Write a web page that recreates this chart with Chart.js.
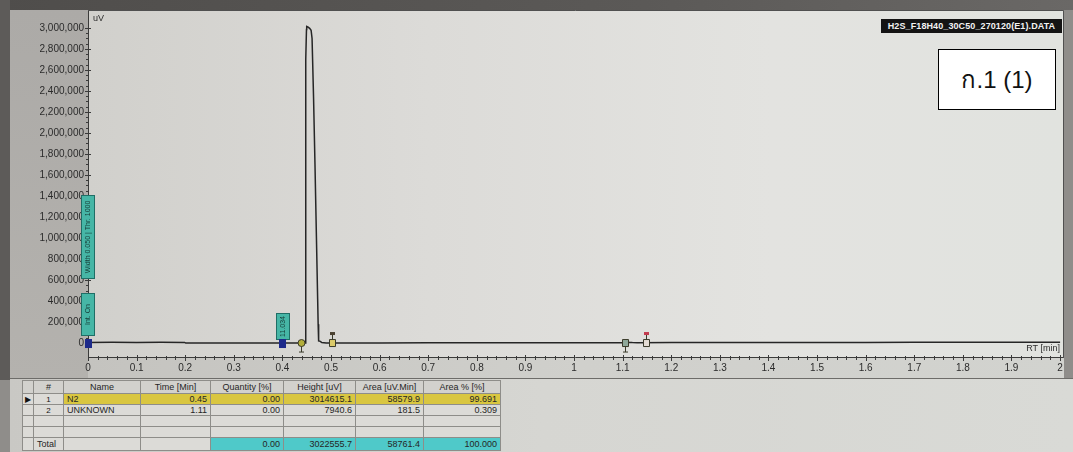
<!DOCTYPE html>
<html>
<head>
<meta charset="utf-8">
<script src="https://cdn.jsdelivr.net/npm/chart.js@4.4.1/dist/chart.umd.min.js"></script>
<style>
  html, body { margin: 0; padding: 0; width: 1073px; height: 452px; overflow: hidden; background: #8f8d8a; }
  #wrap { position: relative; width: 1073px; height: 452px; }
  #chart { position: absolute; left: 0; top: 0; }
  #file {
    position: absolute; left: 881px; top: 19px; width: 181px; height: 14px;
    background: #141414; color: #f2f2f2; box-sizing: border-box;
    font: bold 9px "Liberation Sans", Arial, sans-serif; line-height: 14px;
    text-align: center; white-space: nowrap; overflow: hidden; letter-spacing: 0.1px;
  }
  #tag {
    position: absolute; left: 938px; top: 49px; width: 118px; height: 61px;
    background: #ffffff; border: 1px solid #000; box-sizing: border-box;
    font: 24px "Liberation Sans", "Noto Sans", Arial, sans-serif; color: #111;
    display: flex; align-items: center; justify-content: center;
  }
  #tableArea {
    position: absolute; left: 10px; top: 378px; width: 1063px; height: 74px;
    background: linear-gradient(90deg, #c9c8c4 0%, #d6d6d2 50%, #d9dad6 100%);
    border-top: 1px solid #6d6c69; box-sizing: border-box;
  }
  #peaks {
    position: absolute; left: 12px; top: 1px; border-collapse: collapse; table-layout: fixed;
    font: 9px "Liberation Sans", Arial, sans-serif; color: #262626;
  }
  #peaks th, #peaks td {
    border: 1px solid #8e8d89; padding: 0 3px; white-space: nowrap; overflow: hidden;
    box-sizing: border-box; font-weight: normal;
  }
  #peaks th { height: 13px; background: #d2d1cd; text-align: center; }
  #peaks td { height: 11px; line-height: 9px; background: #dcdbd7; }
  #peaks td.num { text-align: right; }
  #peaks tr.sel td { background: #d9c640; }
  #peaks tr.sel td.mark { background: #dcdbd7; }
  #peaks tr.total td { height: 13px; }
  #peaks tr.total td.sum { background: #4fc9c9; }
  #peaks td.mark { text-align: center; padding: 0; font-size: 8px; color: #111; }
</style>
</head>
<body>
<div id="wrap">
  <canvas id="chart" width="1073" height="380"></canvas>
  <div id="file">H2S_F18H40_30C50_270120(E1).DATA</div>
  <div id="tag">ก.1 (1)</div>
  <div id="tableArea"><table id="peaks"></table></div>
</div>
<script>
// Chromatogram trace: retention time [min] and detector signal [uV]
const rtMin = [0, 0.05, 0.1, 0.15, 0.199, 0.201, 0.3, 0.4, 0.44, 0.4465, 0.4475, 0.4485, 0.4495, 0.45,
  0.453, 0.456, 0.459, 0.461, 0.464, 0.467, 0.470, 0.4725, 0.4735, 0.4742, 0.4748, 0.478, 0.481, 0.49,
  0.6, 0.7, 0.8, 0.9, 1.0, 1.09, 1.1, 1.105, 1.11, 1.115, 1.12, 1.13, 1.2, 1.3, 1.4, 1.5, 1.6, 1.7,
  1.8, 1.9, 2.0];
const signalUv = [6000, 6500, 6000, 6500, 6000, 0, 500, 0, 0, 0, 1200000, 2700000, 2985000, 3014615.1,
  3008000, 2996000, 2978000, 2900000, 2350000, 1700000, 1000000, 420000, 180000, 45000, 20000, 16000, 4000, 0,
  1000, 1500, 2000, 2500, 3000, 3500, 3500, 5000, 7940.6, 6000, 4500, 3800, 4000, 4500, 5000, 5500, 6000, 6500,
  7000, 7500, 8000];

// Axis tick values
const xTickValues = [0, 0.1, 0.2, 0.3, 0.4, 0.5, 0.6, 0.7, 0.8, 0.9, 1, 1.1, 1.2, 1.3, 1.4, 1.5, 1.6, 1.7, 1.8, 1.9, 2];
const yTickValues = [0, 200000, 400000, 600000, 800000, 1000000, 1200000, 1400000, 1600000, 1800000,
  2000000, 2200000, 2400000, 2600000, 2800000, 3000000];

// Peak table
const peakNumbers = [1, 2];
const peakNames = ['N2', 'UNKNOWN'];
const peakTimes = [0.45, 1.11];
const peakQuantity = [0.00, 0.00];
const peakHeights = [3014615.1, 7940.6];
const peakAreas = [58579.9, 181.5];
const peakAreaPct = [99.691, 0.309];

// Integration limits of each peak [min]
const peakStartRt = [0.439, 1.105];
const peakEndRt = [0.502, 1.148];

// Integration events placed on the time axis
const eventRt = [0, 0, 0.4];
const eventText = ['Width 0.050 | Thr. 1000', 'Int. On', '11.034'];

const FONT = '"Liberation Sans", Arial, sans-serif';

// ---- peak table ----
(function buildTable() {
  const t = document.getElementById('peaks');
  const widths = [11, 30, 77, 70, 73, 72, 68, 77];
  const cg = document.createElement('colgroup');
  widths.forEach(w => { const c = document.createElement('col'); c.style.width = w + 'px'; cg.appendChild(c); });
  t.appendChild(cg);
  const head = ['', '#', 'Name', 'Time [Min]', 'Quantity [%]', 'Height [uV]', 'Area [uV.Min]', 'Area % [%]'];
  let tr = document.createElement('tr');
  head.forEach(h => { const th = document.createElement('th'); th.textContent = h; tr.appendChild(th); });
  t.appendChild(tr);
  const sum = a => a.reduce((s, v) => s + v, 0);
  peakNames.forEach((n, i) => {
    tr = document.createElement('tr');
    if (i === 0) tr.className = 'sel';
    const cells = [
      [i === 0 ? '\u25B6' : '', 'mark'],
      [String(peakNumbers[i]), 'mark'],
      [n, ''],
      [peakTimes[i].toFixed(2), 'num'],
      [peakQuantity[i].toFixed(2), 'num'],
      [peakHeights[i].toFixed(1), 'num'],
      [peakAreas[i].toFixed(1), 'num'],
      [peakAreaPct[i].toFixed(3), 'num']
    ];
    cells.forEach(([txt, cls]) => { const td = document.createElement('td'); td.textContent = txt; if (cls) td.className = cls; tr.appendChild(td); });
    t.appendChild(tr);
  });
  for (let k = 0; k < 2; k++) {
    tr = document.createElement('tr');
    for (let c = 0; c < 8; c++) tr.appendChild(document.createElement('td'));
    t.appendChild(tr);
  }
  tr = document.createElement('tr');
  tr.className = 'total';
  const tot = [
    ['', 'mark'], ['Total', ''], ['', ''], ['', ''],
    [sum(peakQuantity).toFixed(2), 'num sum'],
    [sum(peakHeights).toFixed(1), 'num sum'],
    [sum(peakAreas).toFixed(1), 'num sum'],
    [sum(peakAreaPct).toFixed(3), 'num sum']
  ];
  tot.forEach(([txt, cls]) => { const td = document.createElement('td'); td.textContent = txt; if (cls) td.className = cls; tr.appendChild(td); });
  t.appendChild(tr);
})();

// ---- background, frame, ticks and peak markers ----
const screenPlugin = {
  id: 'screen',
  beforeDraw(chart) {
    const { ctx, chartArea: a, width, height } = chart;
    ctx.save();
    // frame band
    ctx.fillStyle = '#8f8d8a';
    ctx.fillRect(0, 0, width, height);
    let g = ctx.createLinearGradient(0, 0, width, 0);
    g.addColorStop(0, '#4f4d4b'); g.addColorStop(0.6, '#5b5957'); g.addColorStop(1, '#6a6866');
    ctx.fillStyle = g;
    ctx.fillRect(0, 0, width, a.top);
    ctx.fillStyle = '#5d5b59';
    ctx.fillRect(0, 0, 10, height);
    // axis label panels
    g = ctx.createLinearGradient(0, a.top, 0, height);
    g.addColorStop(0, '#acaaa7'); g.addColorStop(1, '#b4b2ae');
    ctx.fillStyle = g;
    ctx.fillRect(10, a.top, a.left - 10, height - a.top);
    g = ctx.createLinearGradient(a.left, 0, width, 0);
    g.addColorStop(0, '#c4c3bf'); g.addColorStop(0.5, '#d0d0cc'); g.addColorStop(1, '#d2d3cf');
    ctx.fillStyle = g;
    ctx.fillRect(a.left, a.bottom, a.right - a.left + 1, height - a.bottom);
    // plot panel
    g = ctx.createLinearGradient(a.left, 0, a.right, 0);
    g.addColorStop(0, '#d1d0cc'); g.addColorStop(0.35, '#dcdbd8'); g.addColorStop(0.7, '#e3e3e0'); g.addColorStop(1, '#e1e3df');
    ctx.fillStyle = g;
    ctx.fillRect(a.left, a.top, a.right - a.left, a.bottom - a.top);
    ctx.restore();
  },
  afterDraw(chart) {
    const { ctx, chartArea: a } = chart;
    const xs = chart.scales.x, ys = chart.scales.y;
    ctx.save();
    // frame lines
    ctx.strokeStyle = '#3b3b3a';
    ctx.lineWidth = 1;
    ctx.beginPath();
    ctx.moveTo(a.left + 0.5, a.top); ctx.lineTo(a.left + 0.5, a.bottom + 1);
    ctx.moveTo(a.left, a.bottom + 0.5); ctx.lineTo(a.right, a.bottom + 0.5);
    ctx.stroke();
    ctx.strokeStyle = '#505050';
    ctx.beginPath();
    ctx.moveTo(a.left, a.top + 0.5); ctx.lineTo(a.right + 0.5, a.top + 0.5);
    ctx.lineTo(a.right + 0.5, a.bottom + 1);
    ctx.stroke();
    // time-axis ticks
    ctx.strokeStyle = '#3a3a3a';
    ctx.beginPath();
    for (let i = 0; i <= 100; i++) {
      const v = i * 0.02;
      const px = Math.round(xs.getPixelForValue(v)) + 0.5;
      const major = i % 5 === 0;
      ctx.moveTo(px, a.bottom - (major ? 2 : 1)); ctx.lineTo(px, a.bottom + (major ? 4 : 3));
    }
    // signal-axis ticks
    for (let i = 0; i <= 60; i++) {
      const v = i * 50000;
      const py = Math.round(ys.getPixelForValue(v)) + 0.5;
      const major = i % 4 === 0;
      ctx.moveTo(a.left - (major ? 3 : 2), py); ctx.lineTo(a.left + (major ? 3 : 1), py);
    }
    ctx.stroke();
    // axis captions
    ctx.fillStyle = '#2e2e2e';
    ctx.font = '9px ' + FONT;
    ctx.textBaseline = 'middle';
    ctx.textAlign = 'left';
    ctx.fillText('uV', a.left + 5, a.top + 9);
    ctx.textAlign = 'right';
    ctx.fillText('RT [min]', a.right - 3, a.bottom - 8);

    const base = ys.getPixelForValue(0);
    // integration events
    eventRt.forEach((rt, i) => {
      const px = Math.round(xs.getPixelForValue(rt));
      const boxes = [[195, 279], [293, 336], [313, 340]];
      const [top, bot] = boxes[i];
      const bx = i === 2 ? px - 6 : px - 7;
      ctx.fillStyle = '#46b6a6';
      ctx.strokeStyle = '#1f6e66';
      ctx.fillRect(bx, top, 14, bot - top);
      ctx.strokeRect(bx + 0.5, top + 0.5, 13, bot - top - 1);
      ctx.save();
      ctx.translate(bx + 7, (top + bot) / 2);
      ctx.rotate(-Math.PI / 2);
      ctx.fillStyle = '#17403b';
      ctx.font = '7px ' + FONT;
      ctx.textAlign = 'center';
      ctx.textBaseline = 'middle';
      ctx.fillText(eventText[i], 0, 0.5);
      ctx.restore();
    });
    // event anchors on the baseline
    [[xs.getPixelForValue(0), 4], [xs.getPixelForValue(0.4), 4]].forEach(([px]) => {
      ctx.fillStyle = '#1d2a8a';
      ctx.fillRect(Math.round(px) - 3, base - 4, 7, 9);
    });
    // peak start / end markers
    const markerColors = [['#b3ae3a', '#d9c867'], ['#8fa89a', '#d27a86']];
    peakStartRt.forEach((rt, i) => {
      const px = Math.round(xs.getPixelForValue(rt)) + 0.5;
      ctx.strokeStyle = '#3a3a2a';
      ctx.fillStyle = markerColors[i][0];
      ctx.lineWidth = 1;
      ctx.beginPath();
      ctx.moveTo(px, base + 3); ctx.lineTo(px, base + 9);
      ctx.moveTo(px - 2.5, base + 9); ctx.lineTo(px + 2.5, base + 9);
      ctx.stroke();
      ctx.beginPath();
      if (i === 0) ctx.arc(px, base, 3.5, 0, Math.PI * 2);
      else ctx.rect(px - 3, base - 3.5, 6, 7);
      ctx.fill(); ctx.stroke();
    });
    peakEndRt.forEach((rt, i) => {
      const px = Math.round(xs.getPixelForValue(rt)) + 0.5;
      ctx.strokeStyle = '#3a3a2a';
      ctx.lineWidth = 1;
      ctx.beginPath();
      ctx.moveTo(px, base - 3); ctx.lineTo(px, base - 9);
      ctx.stroke();
      ctx.fillStyle = i === 0 ? '#4a4030' : '#c23a4e';
      ctx.fillRect(px - 2.5, base - 11, 5, 3);
      ctx.fillStyle = i === 0 ? '#dccb6a' : '#e4dcd4';
      ctx.beginPath();
      ctx.rect(px - 3, base - 3.5, 6, 7);
      ctx.fill(); ctx.stroke();
    });
    ctx.restore();
  }
};

new Chart(document.getElementById('chart'), {
  type: 'line',
  data: {
    datasets: [{
      data: rtMin.map((t, i) => ({ x: t, y: signalUv[i] })),
      borderColor: '#262626',
      borderWidth: 1.5,
      pointRadius: 0,
      tension: 0,
      fill: false
    }]
  },
  options: {
    responsive: false,
    animation: false,
    devicePixelRatio: 1,
    layout: { padding: { top: 10, right: 10, bottom: 0, left: 0 } },
    plugins: { legend: { display: false }, tooltip: { enabled: false } },
    scales: {
      x: {
        type: 'linear', min: 0, max: 2.006,
        afterBuildTicks: s => { s.ticks = xTickValues.map(v => ({ value: v })); },
        afterFit: s => { s.height = 23; },
        grid: { display: false, drawTicks: false },
        border: { display: false },
        ticks: {
          autoSkip: false, maxRotation: 0, padding: 5, color: '#2b2b2b',
          font: { family: FONT, size: 10 },
          callback: v => String(v)
        }
      },
      y: {
        type: 'linear', min: -133000, max: 3171000,
        afterBuildTicks: s => { s.ticks = yTickValues.map(v => ({ value: v })); },
        afterFit: s => { s.width = 88; },
        grid: { display: false, drawTicks: false },
        border: { display: false },
        ticks: {
          autoSkip: false, padding: 4, color: '#2b2b2b',
          font: { family: FONT, size: 10 },
          callback: v => v.toLocaleString('en-US')
        }
      }
    }
  },
  plugins: [screenPlugin]
});
</script>
</body>
</html>
